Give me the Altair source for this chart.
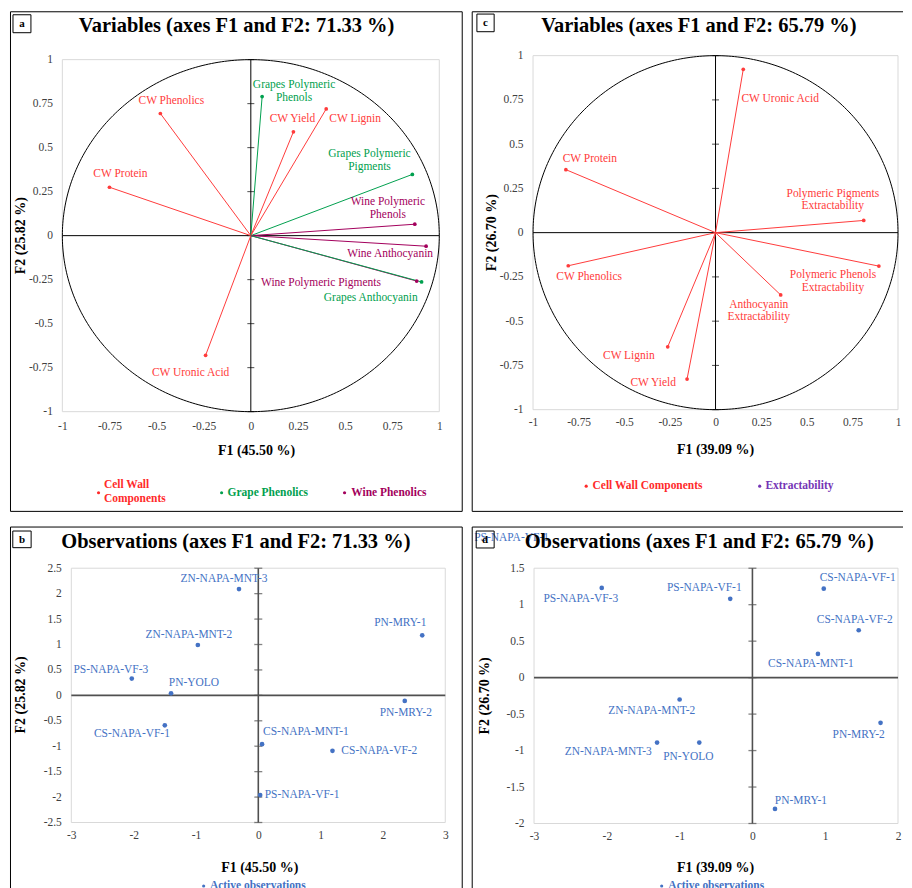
import altair as alt
import numpy as np
import pandas as pd

SERIF = "Liberation Serif"
RED = "#FF3B3B"
GREEN = "#00A04E"
WINE = "#A3005C"
PURPLE = "#7535B5"
BLUE = "#4472C4"
LABEL_GRAY = "#404040"
FRAME = "#D9D9D9"

# ---------------- Panel a : variables (axes F1 and F2: 71.33 %) ----------------
a_names = ["CW Phenolics", "CW Protein", "Grapes Polymeric Phenols", "CW Yield", "CW Lignin",
           "Grapes Polymeric Pigments", "Wine Polymeric Phenols", "Wine Anthocyanin",
           "Wine Polymeric Pigments", "Grapes Anthocyanin", "CW Uronic Acid"]
a_text = ["CW Phenolics", "CW Protein", "Grapes Polymeric\nPhenols", "CW Yield", "CW Lignin",
          "Grapes Polymeric\nPigments", "Wine Polymeric\nPhenols", "Wine Anthocyanin",
          "Wine Polymeric Pigments", "Grapes Anthocyanin", "CW Uronic Acid"]
a_f1 = [-0.48, -0.75, 0.06, 0.226, 0.40, 0.857, 0.87, 0.93, 0.88, 0.906, -0.24]
a_f2 = [0.694, 0.275, 0.79, 0.59, 0.72, 0.348, 0.065, -0.06, -0.258, -0.263, -0.68]
a_group = ["Cell Wall Components", "Cell Wall Components", "Grape Phenolics",
           "Cell Wall Components", "Cell Wall Components", "Grape Phenolics",
           "Wine Phenolics", "Wine Phenolics", "Wine Phenolics", "Grape Phenolics",
           "Cell Wall Components"]
a_groups = ["Cell Wall Components", "Grape Phenolics", "Wine Phenolics"]

# ---------------- Panel c : variables (axes F1 and F2: 65.79 %) ----------------
c_names = ["CW Uronic Acid", "CW Protein", "Polymeric Pigments Extractability", "CW Phenolics",
           "Polymeric Phenols Extractability", "Anthocyanin Extractability", "CW Lignin", "CW Yield"]
c_text = ["CW Uronic Acid", "CW Protein", "Polymeric Pigments\nExtractability", "CW Phenolics",
          "Polymeric Phenols\nExtractability", "Anthocyanin\nExtractability", "CW Lignin", "CW Yield"]
c_f1 = [0.152, -0.82, 0.812, -0.807, 0.895, 0.357, -0.262, -0.156]
c_f2 = [0.923, 0.356, 0.069, -0.187, -0.189, -0.352, -0.645, -0.827]
c_group = ["Cell Wall Components", "Cell Wall Components", "Extractability", "Cell Wall Components",
           "Extractability", "Extractability", "Cell Wall Components", "Cell Wall Components"]
c_groups = ["Cell Wall Components", "Extractability"]

# ---------------- Panel b : observations (71.33 %) ----------------
b_names = ["ZN-NAPA-MNT-3", "ZN-NAPA-MNT-2", "PS-NAPA-VF-3", "PN-YOLO", "CS-NAPA-VF-1",
           "CS-NAPA-MNT-1", "CS-NAPA-VF-2", "PS-NAPA-VF-1", "PN-MRY-1", "PN-MRY-2"]
b_f1 = [-0.31, -0.97, -2.03, -1.40, -1.50, 0.06, 1.19, 0.03, 2.63, 2.35]
b_f2 = [2.09, 0.99, 0.33, 0.04, -0.59, -0.96, -1.09, -1.96, 1.18, -0.11]

# ---------------- Panel d : observations (65.79 %) ----------------
d_names = ["PS-NAPA-VF-3", "PS-NAPA-VF-1", "CS-NAPA-VF-1", "CS-NAPA-VF-2", "CS-NAPA-MNT-1",
           "ZN-NAPA-MNT-2", "ZN-NAPA-MNT-3", "PN-YOLO", "PN-MRY-2", "PN-MRY-1"]
d_f1 = [-2.07, -0.305, 0.98, 1.46, 0.90, -1.0, -1.31, -0.73, 1.76, 0.31]
d_f2 = [1.23, 1.08, 1.22, 0.65, 0.325, -0.30, -0.89, -0.89, -0.62, -1.80]

ticks_unit = [-1, -0.75, -0.5, -0.25, 0, 0.25, 0.5, 0.75, 1]
b_xticks = [-3, -2, -1, 0, 1, 2, 3]
b_yticks = [-2.5, -2, -1.5, -1, -0.5, 0, 0.5, 1, 1.5, 2, 2.5]
d_xticks = [-3, -2, -1, 0, 1, 2]
d_yticks = [-2, -1.5, -1, -0.5, 0, 0.5, 1, 1.5]

# label offsets (pixels, centre of the first text line relative to the point) - styling only
a_off = {"CW Phenolics": (11, -13), "CW Protein": (11, -13),
         "Grapes Polymeric Phenols": (32, -11.5), "CW Yield": (-1, -13), "CW Lignin": (29, 10),
         "Grapes Polymeric Pigments": (-43, -20), "Wine Polymeric Phenols": (-27, -22),
         "Wine Anthocyanin": (-36, 8), "Wine Polymeric Pigments": (-96, 2),
         "Grapes Anthocyanin": (-51, 16), "CW Uronic Acid": (-15, 18)}
c_off = {"CW Uronic Acid": (37, 30), "CW Protein": (24, -11),
         "Polymeric Pigments Extractability": (-31, -26.5), "CW Phenolics": (21, 11),
         "Polymeric Phenols Extractability": (-46, 9), "Anthocyanin Extractability": (-22, 10),
         "CW Lignin": (-39, 9), "CW Yield": (-34, 4)}
b_off = {"ZN-NAPA-MNT-3": (-15, -10), "ZN-NAPA-MNT-2": (-9, -10), "PS-NAPA-VF-3": (-21, -9),
         "PN-YOLO": (23, -10), "CS-NAPA-VF-1": (-33, 9), "CS-NAPA-MNT-1": (44, -12),
         "CS-NAPA-VF-2": (47, 0), "PS-NAPA-VF-1": (42, 0), "PN-MRY-1": (-22, -12),
         "PN-MRY-2": (1, 12)}
d_off = {"PS-NAPA-VF-3": (-21, 11), "PS-NAPA-VF-1": (-26, -11), "CS-NAPA-VF-1": (34, -11),
         "CS-NAPA-VF-2": (-4, -10), "CS-NAPA-MNT-1": (-7, 10), "ZN-NAPA-MNT-2": (-28, 12),
         "ZN-NAPA-MNT-3": (-49, 9), "PN-YOLO": (-11, 15), "PN-MRY-2": (-22, 12),
         "PN-MRY-1": (26, -8)}

ONE = pd.DataFrame({"k": [0]})
LABELEXPR = "toString(datum.value)"


def make_axis(ticks, lpad):
    return alt.Axis(values=ticks, labelExpr=LABELEXPR, title=None, domain=False,
                    ticks=False, tickSize=0, grid=False, labelFont=SERIF, labelFontSize=11.5,
                    labelColor=LABEL_GRAY, labelPadding=lpad, labelFlush=False,
                    labelOverlap=False)


def vtext(x, y, txt, size, weight="normal", color="black", align="center", angle=0,
          line_break=False):
    kw = dict(font=SERIF, fontSize=size, fontWeight=weight, align=align, baseline="middle",
              color=color, angle=angle)
    if line_break:
        kw.update(lineBreak="\n", lineHeight=14)
    return alt.Chart(ONE).mark_text(**kw).encode(x=alt.value(x), y=alt.value(y),
                                                   text=alt.value(txt))


def vrect(x1, x2, y1, y2, color, width=1):
    return alt.Chart(ONE).mark_rect(fillOpacity=0, stroke=color, strokeWidth=width).encode(
        x=alt.value(x1), x2=alt.value(x2), y=alt.value(y1), y2=alt.value(y2))


def deco(rect, frame, title_xy, title, box, letter, legend_items, xtitle, ytitle,
         ox=0, oy=0, extra=None, open_right=False):
    """Frame, border, titles, letter box and legend, in pixels relative to the plot origin
    (ox, oy shift everything from plot-origin coordinates to view coordinates)."""
    layers = []
    fx1, fx2, fy1, fy2 = frame
    layers.append(vrect(fx1 + ox, fx2 + ox, fy1 + oy, fy2 + oy, FRAME))
    x1, x2, y1, y2 = rect
    x1, x2, y1, y2 = x1 + ox, x2 + ox, y1 + oy, y2 + oy
    if open_right:
        for (ax1, ax2, ay1, ay2) in [(x1, x2, y1, y1), (x1, x2, y2, y2), (x1, x1, y1, y2)]:
            layers.append(alt.Chart(ONE).mark_rule(color="black", strokeWidth=1).encode(
                x=alt.value(ax1), x2=alt.value(ax2), y=alt.value(ay1), y2=alt.value(ay2)))
    else:
        layers.append(vrect(x1, x2, y1, y2, "black"))
    if extra is not None:
        ex, ey, etext, ecol = extra
        layers.append(vtext(ex + ox, ey + oy, etext, 11.5, color=ecol, align="left"))
    layers.append(vtext(title_xy[0] + ox, title_xy[1] + oy, title, 20.5, weight="bold"))
    bx1, by1, bx2, by2 = box
    layers.append(vrect(bx1 + ox, bx2 + ox, by1 + oy, by2 + oy, "black"))
    layers.append(vtext((bx1 + bx2) / 2 + ox, (by1 + by2) / 2 + 0.5 + oy, letter, 11,
                        weight="bold"))
    xt_x, xt_y, xt = xtitle
    layers.append(vtext(xt_x + ox, xt_y + oy, xt, 14, weight="bold"))
    yt_x, yt_y, yt = ytitle
    layers.append(vtext(yt_x + ox, yt_y + oy, yt, 14, weight="bold", angle=270))
    for (bxp, byp, tx, ty, txt, col) in legend_items:
        layers.append(alt.Chart(ONE).mark_circle(size=10, opacity=1, color=col).encode(
            x=alt.value(bxp + ox), y=alt.value(byp + oy)))
        layers.append(vtext(tx + ox, ty + oy, txt, 11.5, weight="bold", color=col,
                            align="left", line_break=True))
    return layers


def zero_layers(sx, sy, xaxis, yaxis, yticks, color, width, tsize, tthick, xspan, yspan):
    tick_df = pd.DataFrame({"v": yticks})
    X0 = alt.X("z:Q", scale=sx, axis=xaxis)
    Y0 = alt.Y("z:Q", scale=sy, axis=yaxis)
    return [
        alt.Chart(ONE).transform_calculate(z="0").mark_rule(color=color, strokeWidth=width)
        .encode(x=X0, y=alt.value(yspan[0]), y2=alt.value(yspan[1])),
        alt.Chart(ONE).transform_calculate(z="0").mark_rule(color=color, strokeWidth=width)
        .encode(y=Y0, x=alt.value(xspan[0]), x2=alt.value(xspan[1])),
        alt.Chart(tick_df).transform_calculate(z="0").mark_tick(
            orient="horizontal", size=tsize, thickness=tthick, color=color).encode(
            y=alt.Y("v:Q", scale=sy, axis=yaxis), x=X0),
    ]


def variables_panel(names, texts, f1, f2, groups, gdomain, grange, offs, w, h, yrange,
                    deco_layers, xaxis, yaxis):
    df = pd.DataFrame({"name": names, "label": texts, "f1": f1, "f2": f2, "group": groups})
    sx = alt.Scale(domain=[-1, 1], nice=False, zero=False)
    sy = alt.Scale(domain=[-1, 1], nice=False, zero=False, range=yrange)
    X = alt.X("f1:Q", scale=sx, axis=xaxis)
    Y = alt.Y("f2:Q", scale=sy, axis=yaxis)
    col = alt.Color("group:N", scale=alt.Scale(domain=gdomain, range=grange), legend=None)
    ang = np.linspace(0, 2 * np.pi, 361)
    circ = pd.DataFrame({"cx": np.cos(ang), "cy": np.sin(ang), "i": np.arange(361)})
    layers = list(deco_layers)
    layers.append(alt.Chart(circ).mark_line(color="black", strokeWidth=1).encode(
        x=alt.X("cx:Q", scale=sx, axis=xaxis), y=alt.Y("cy:Q", scale=sy, axis=yaxis),
        order="i:Q"))
    layers += zero_layers(sx, sy, xaxis, yaxis, ticks_unit, "black", 1, 7, 1,
                          (0, w), (yrange[1], yrange[0]))
    layers.append(alt.Chart(df).transform_calculate(z="0").mark_rule(strokeWidth=1).encode(
        x=alt.X("z:Q", scale=sx, axis=xaxis), y=alt.Y("z:Q", scale=sy, axis=yaxis),
        x2="f1:Q", y2="f2:Q", color=col))
    layers.append(alt.Chart(df).mark_circle(size=14, opacity=1).encode(x=X, y=Y, color=col))
    for n in names:
        dx, dy = offs[n]
        sub = df[df["name"] == n]
        layers.append(alt.Chart(sub).mark_text(dx=dx, dy=dy, font=SERIF, fontSize=11.5,
                                               align="center", baseline="middle",
                                               lineBreak="\n", lineHeight=12.5).encode(
            x=X, y=Y, text="label:N", color=col))
    return alt.layer(*layers).properties(width=w, height=h)


def obs_panel(names, f1, f2, offs, xdom, ydom, yt, w, h, xrange, deco_layers, xaxis, yaxis):
    df = pd.DataFrame({"name": names, "f1": f1, "f2": f2})
    sx = alt.Scale(domain=xdom, nice=False, zero=False, range=xrange)
    sy = alt.Scale(domain=ydom, nice=False, zero=False)
    X = alt.X("f1:Q", scale=sx, axis=xaxis)
    Y = alt.Y("f2:Q", scale=sy, axis=yaxis)
    layers = list(deco_layers)
    layers += zero_layers(sx, sy, xaxis, yaxis, yt, "#505050", 1.6, 8, 1.3, xrange, (0, h))
    layers.append(alt.Chart(df).mark_circle(size=22, opacity=1, color=BLUE).encode(x=X, y=Y))
    for n in names:
        dx, dy = offs[n]
        sub = df[df["name"] == n]
        layers.append(alt.Chart(sub).mark_text(dx=dx, dy=dy, font=SERIF, fontSize=11.5,
                                               align="center", baseline="middle",
                                               color=BLUE).encode(x=X, y=Y, text="name:N"))
    return alt.layer(*layers).properties(width=w, height=h)


# ---------------- build panels ----------------
# panel a: view top 4 px above the plot area (row alignment with panel c)
deco_a = deco(rect=(-52, 401, -48, 453), frame=(0, 378, 0, 353), title_xy=(174.7, -34),
              title="Variables (axes F1 and F2: 71.33 %)", box=(-49.5, -45, -31.5, -27),
              letter="a",
              legend_items=[(36.3, 434.3, 41.7, 426.3, "Cell Wall\nComponents", "#FF2A2A"),
                            (159.7, 434.3, 165.7, 434.3, "Grape Phenolics", GREEN),
                            (283, 434.3, 289.7, 434.3, "Wine Phenolics", WINE)],
              xtitle=(194.7, 392, "F1 (45.50 %)"), ytitle=(-41, 176.5, "F2 (25.82 %)"),
              ox=0, oy=4)
panel_a = variables_panel(a_names, a_text, a_f1, a_f2, a_group, a_groups, [RED, GREEN, WINE],
                          a_off, 378, 357, [357, 4], deco_a,
                          make_axis(ticks_unit, 9), make_axis(ticks_unit, 10))

deco_c = deco(rect=(-61, 371, -44, 457), frame=(0, 366, 0, 355), title_xy=(166.3, -30),
              title="Variables (axes F1 and F2: 65.79 %)", box=(-56.3, -41.7, -39, -24),
              letter="c",
              legend_items=[(53.3, 431.7, 59.7, 431.7, "Cell Wall Components", "#FF2A2A"),
                            (227.3, 431.7, 233, 431.7, "Extractability", PURPLE)],
              xtitle=(183, 395, "F1 (39.09 %)"), ytitle=(-41.3, 177.5, "F2 (26.70 %)"),
              open_right=True)
panel_c = variables_panel(c_names, c_text, c_f1, c_f2, c_group, c_groups, [RED, PURPLE],
                          c_off, 366, 355, [355, 0], deco_c,
                          make_axis(ticks_unit, 7), make_axis(ticks_unit, 10))

# panel b: view starts 9 px left of the plot area (column alignment with panel a)
deco_b = deco(rect=(-61, 392, -41.3, 358), frame=(0, 375, 0, 255), title_xy=(165, -26.6),
              title="Observations (axes F1 and F2: 71.33 %)", box=(-58.7, -37.3, -40.3, -20.6),
              letter="b",
              legend_items=[(132.7, 318.7, 139, 318.7, "Active observations", BLUE)],
              xtitle=(189, 300.4, "F1 (45.50 %)"), ytitle=(-50, 127, "F2 (25.82 %)"),
              ox=9, oy=0)
panel_b = obs_panel(b_names, b_f1, b_f2, b_off, [-3, 3], [-2.5, 2.5], b_yticks,
                    384, 255, [9, 384], deco_b, make_axis(b_xticks, 7), make_axis(b_yticks, 1))

deco_d = deco(rect=(-62, 370, -41.3, 358), frame=(0, 365, 0, 256), title_xy=(165.7, -26.6),
              title="Observations (axes F1 and F2: 65.79 %)", box=(-58, -37.3, -40, -20.3),
              letter="d",
              legend_items=[(128, 318.7, 134.7, 318.7, "Active observations", BLUE)],
              xtitle=(182, 301, "F1 (39.09 %)"), ytitle=(-49, 128, "F2 (26.70 %)"),
              extra=(-60, -30, "PS-NAPA-VF-1", BLUE), open_right=True)
panel_d = obs_panel(d_names, d_f1, d_f2, d_off, [-3, 2], [-2, 1.5], d_yticks,
                    365, 256, [0, 365], deco_d, make_axis(d_xticks, 7), make_axis(d_yticks, 10))

chart = alt.vconcat(
    alt.hconcat(panel_a, panel_c, spacing=8),
    alt.hconcat(panel_b, panel_d, spacing=8),
    spacing=14,
).properties(padding={"left": 1.5, "top": 1.5, "right": 0, "bottom": 0},
             background="white").configure_view(stroke="transparent", strokeWidth=0)

chart.save("out.html", embed_options={"renderer": "svg", "actions": False})
